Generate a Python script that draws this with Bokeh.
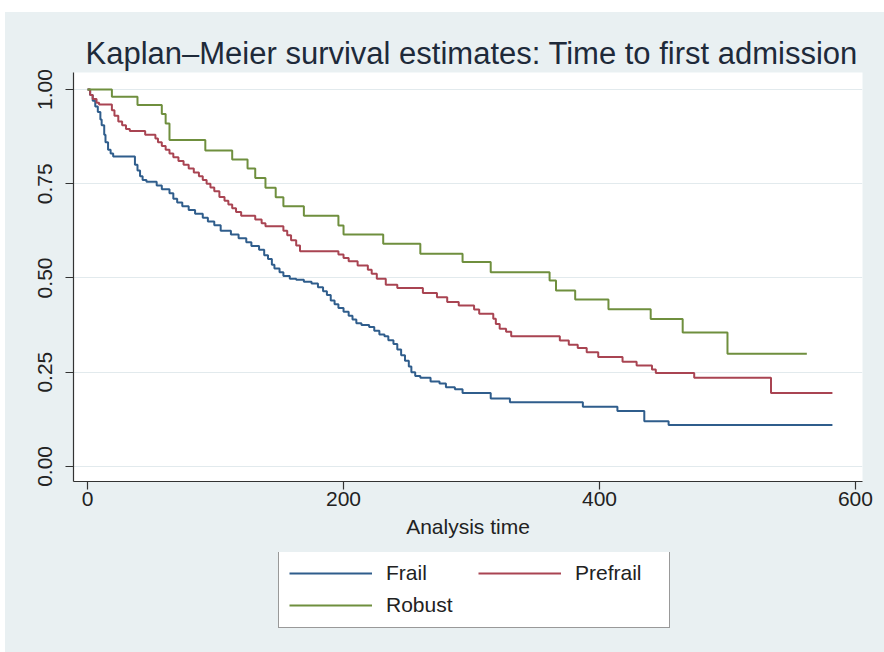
from bokeh.plotting import figure
from bokeh.layouts import column
from bokeh.models import Legend, LegendItem, FixedTicker, NumeralTickFormatter, Range1d
from bokeh.embed import file_html
from bokeh.resources import INLINE

title_text = "Kaplan–Meier survival estimates: Time to first admission"
x_title = "Analysis time"
group_names = ["Frail", "Prefrail", "Robust"]
x_ticks = [0, 200, 400, 600]
y_ticks = [0.0, 0.25, 0.5, 0.75, 1.0]

# Frail: step times and survival after each step
frail_t = [0, 2, 4, 6, 8, 10, 11, 13, 14, 16, 18, 20, 37, 39, 41, 43, 46, 54, 58, 64,
           67, 70, 74, 79, 84, 90, 94, 99, 104, 112, 118, 124, 128, 134, 138, 141, 144,
           146, 150, 153, 158, 163, 169, 175, 180, 184, 187, 190, 193, 196, 200, 204,
           207, 210, 214, 220, 224, 228, 232, 235, 239, 242, 245, 248, 251, 253, 256,
           260, 268, 275, 280, 287, 293, 315, 330, 387, 414, 435, 454, 582]
frail_s = [1.0, 0.985, 0.97, 0.955, 0.94, 0.92, 0.905, 0.88, 0.86, 0.84, 0.83, 0.822,
           0.80, 0.785, 0.77, 0.76, 0.755, 0.745, 0.735, 0.725, 0.71, 0.70, 0.69, 0.68,
           0.67, 0.66, 0.65, 0.64, 0.625, 0.615, 0.605, 0.595, 0.585, 0.575, 0.56, 0.55,
           0.535, 0.525, 0.515, 0.505, 0.498, 0.495, 0.49, 0.485, 0.475, 0.465, 0.455,
           0.44, 0.43, 0.42, 0.41, 0.40, 0.39, 0.38, 0.375, 0.37, 0.36, 0.35, 0.345,
           0.335, 0.325, 0.31, 0.295, 0.28, 0.265, 0.25, 0.24, 0.235, 0.225, 0.22, 0.21,
           0.205, 0.195, 0.18, 0.17, 0.158, 0.147, 0.12, 0.11, 0.11]

prefrail_t = [0, 2, 4, 7, 9, 19, 21, 24, 27, 30, 33, 45, 53, 55, 58, 61, 64, 67, 71, 75,
              79, 83, 87, 90, 93, 96, 99, 103, 107, 110, 113, 116, 120, 131, 136, 139,
              153, 156, 159, 163, 166, 196, 200, 204, 211, 219, 222, 226, 233, 242, 262,
              273, 281, 290, 302, 306, 317, 319, 322, 327, 331, 369, 376, 383, 390, 399,
              418, 429, 441, 444, 474, 534, 582]
prefrail_s = [1.0, 0.985, 0.975, 0.965, 0.96, 0.945, 0.93, 0.915, 0.905, 0.895, 0.89,
              0.88, 0.87, 0.86, 0.85, 0.84, 0.83, 0.82, 0.81, 0.80, 0.79, 0.78, 0.77,
              0.76, 0.75, 0.74, 0.73, 0.715, 0.705, 0.695, 0.685, 0.675, 0.665, 0.655,
              0.645, 0.637, 0.625, 0.613, 0.60, 0.586, 0.571, 0.562, 0.553, 0.544, 0.533,
              0.522, 0.511, 0.498, 0.482, 0.473, 0.46, 0.449, 0.436, 0.427, 0.416, 0.405,
              0.392, 0.378, 0.365, 0.357, 0.345, 0.334, 0.323, 0.314, 0.303, 0.29, 0.278,
              0.268, 0.257, 0.248, 0.235, 0.195, 0.195]

robust_t = [0, 19, 39, 58, 61, 64, 92, 113, 125, 131, 139, 147, 153, 169, 196, 200, 231,
            260, 293, 315, 361, 366, 381, 407, 440, 465, 500, 562]
robust_s = [1.0, 0.981, 0.959, 0.935, 0.91, 0.866, 0.838, 0.814, 0.79, 0.765, 0.739,
            0.714, 0.69, 0.665, 0.639, 0.615, 0.591, 0.564, 0.542, 0.515, 0.493, 0.467,
            0.443, 0.417, 0.391, 0.355, 0.299, 0.299]

colors = ["#2F5D8C", "#A94452", "#6F8F3E"]
series = [(frail_t, frail_s), (prefrail_t, prefrail_s), (robust_t, robust_s)]

BG = "#E9F0F2"
FONT = "Liberation Sans"
DARK = "#222222"

p = figure(width=879, height=540, output_backend="svg", toolbar_location=None,
           x_range=Range1d(-11, 605.5), y_range=Range1d(-0.04, 1.045),
           min_border_left=68, min_border_right=22, min_border_top=60,
           min_border_bottom=71)
p.background_fill_color = "white"
p.border_fill_color = BG
p.outline_line_color = None

p.title.text = title_text
p.title.text_font = FONT
p.title.text_font_size = "31px"
p.title.text_font_style = "normal"
p.title.text_color = "#1E2A3A"
p.title.align = "left"
p.title.offset = 12
p.title.standoff = 4

for (t, s), c in zip(series, colors):
    p.step(t, s, mode="after", line_color=c, line_width=2)

# axes
for ax in (p.xaxis[0], p.yaxis[0]):
    ax.axis_line_color = "#333333"
    ax.axis_line_width = 1.2
    ax.major_tick_line_color = "#333333"
    ax.major_tick_line_width = 1.2
    ax.major_tick_out = 8
    ax.major_tick_in = 0
    ax.minor_tick_line_color = None
    ax.major_label_text_font = FONT
    ax.major_label_text_font_size = "21px"
    ax.major_label_text_color = DARK

p.xaxis.ticker = FixedTicker(ticks=x_ticks)
p.xaxis.axis_label = x_title
p.xaxis.axis_label_text_font = FONT
p.xaxis.axis_label_text_font_size = "21px"
p.xaxis.axis_label_text_font_style = "normal"
p.xaxis.axis_label_text_color = DARK
p.xaxis.major_label_standoff = 2
p.xaxis.axis_label_standoff = 6

p.yaxis.ticker = FixedTicker(ticks=y_ticks)
p.yaxis.formatter = NumeralTickFormatter(format="0.00")
p.yaxis.major_label_orientation = "vertical"
p.yaxis.major_label_standoff = 13

p.xgrid.grid_line_color = None
p.ygrid.grid_line_color = "#E2EAED"
p.ygrid.grid_line_width = 1.2

# legend strip below the plot (its series are drawn outside its visible range)
lg = figure(width=879, height=100, output_backend="svg", toolbar_location=None,
            x_axis_type=None, y_axis_type=None, min_border=0,
            x_range=Range1d(-1000, -999), y_range=Range1d(-1000, -999))
lg.background_fill_color = BG
lg.background_fill_alpha = 0.0
lg.border_fill_color = BG
lg.border_fill_alpha = 0.0
lg.outline_line_color = None
lg.xgrid.grid_line_color = None
lg.ygrid.grid_line_color = None
lg.styles = {"background-color": BG}

items = []
for name, (t, s), c in zip(group_names, series, colors):
    r = lg.step(t, s, mode="after", line_color=c, line_width=2)
    items.append(LegendItem(label=name, renderers=[r]))

legend = Legend(items=items, orientation="horizontal", ncols=2, location=(205, 24),
                glyph_width=83, glyph_height=22, label_height=22, label_width=84,
                label_standoff=14, spacing=8, padding=10, margin=0,
                label_text_font=FONT, label_text_font_size="21px", label_text_color=DARK,
                border_line_color="#333333", border_line_width=1.2,
                background_fill_color="white", background_fill_alpha=1.0)
lg.add_layout(legend, "center")

layout = column(p, lg, spacing=0)
layout.margin = (12, 0, 0, 5)
layout.styles = {"background-color": BG}

open("out.html", "w").write(file_html(layout, INLINE))
